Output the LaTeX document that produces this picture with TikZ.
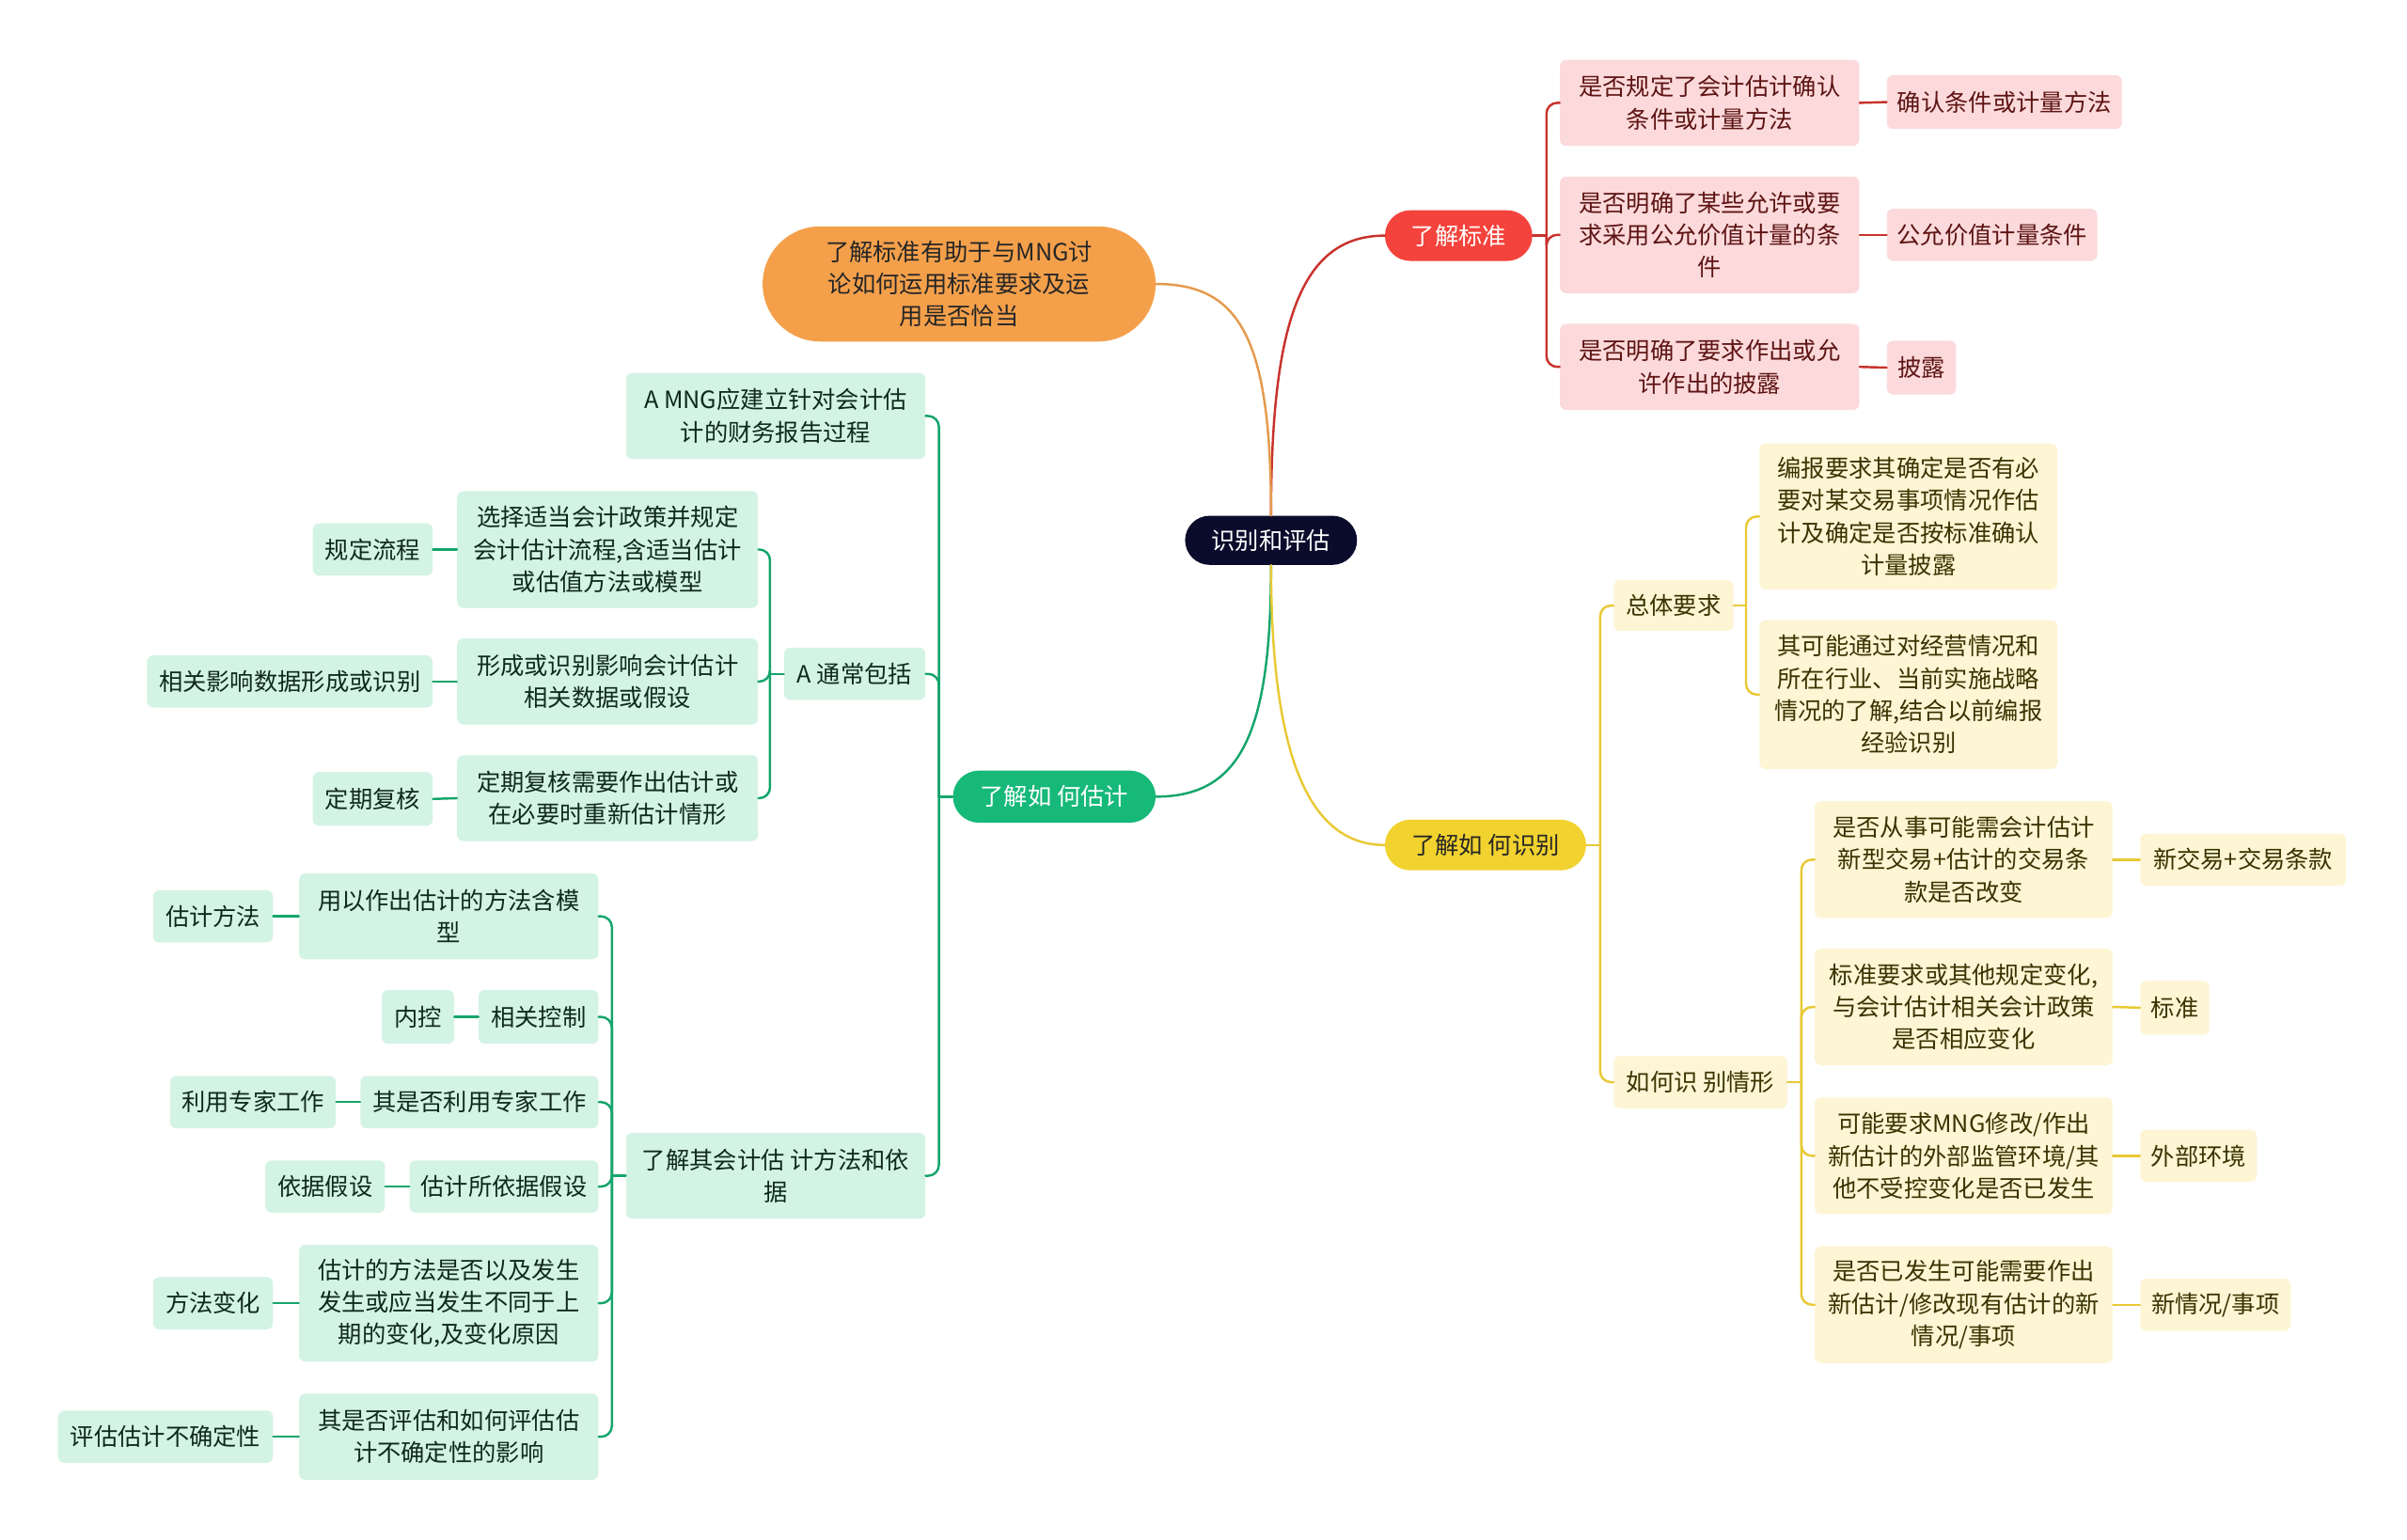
\documentclass[tikz,border=0pt]{standalone}
\usepackage{fontspec}
\setmainfont{Noto Sans CJK SC}
\usetikzlibrary{positioning,shapes.misc}

\definecolor{hubC}{HTML}{0B0B2C}
\definecolor{redC}{HTML}{F4433C}
\definecolor{redL}{HTML}{FCDADB}
\definecolor{redT}{HTML}{5E1414}
\definecolor{redW}{HTML}{C8322C}
\definecolor{orgC}{HTML}{F4A04B}
\definecolor{orgW}{HTML}{E49A4C}
\definecolor{grnC}{HTML}{16B978}
\definecolor{grnL}{HTML}{D3F3E5}
\definecolor{grnT}{HTML}{10291D}
\definecolor{grnW}{HTML}{14A56C}
\definecolor{yelC}{HTML}{F2D22E}
\definecolor{yelL}{HTML}{FDF5D4}
\definecolor{yelT}{HTML}{3A3300}
\definecolor{yelW}{HTML}{E9C934}

\begin{document}
\begin{tikzpicture}[
  x=1pt, y=-1pt,
  font=\fontsize{15.5}{21}\selectfont,
  sz/.style 2 args={minimum width=#1, minimum height=#2},
  topic/.style={rounded rectangle, align=center, inner sep=0pt},
  leaf/.style={rectangle, rounded corners=4, align=center, inner sep=0pt},
  redleaf/.style={leaf, fill=redL, text=redT},
  yelleaf/.style={leaf, fill=yelL, text=yelT},
  grnleaf/.style={leaf, fill=grnL, text=grnT},
  wire/.style={line width=1.5, line cap=round},
  redline/.style={wire, draw=redW},
  orgline/.style={wire, draw=orgW},
  grnline/.style={wire, draw=grnW},
  yelline/.style={wire, draw=yelW}
]
\fill[white] (0,0) rectangle (1568,1003);

% centre and main topics
\node[topic, sz={112}{32}, fill=hubC, text=white] (hub) at (828,352) {识别和评估};
\node[topic, sz={96}{33}, fill=redC, text=white, anchor=west] (std) at (902,153.5) {了解标准};
\node[topic, sz={256}{75}, fill=orgC, text=black!85, anchor=east] (org) at (753,185) {了解标准有助于与MNG讨\\论如何运用标准要求及运\\用是否恰当};
\node[topic, sz={132}{34}, fill=grnC, text=white, anchor=east] (est) at (753,519) {了解如 何估计};
\node[topic, sz={131}{33}, fill=yelC, text=black!85, anchor=west] (idn) at (902,550.5) {了解如 何识别};

% red branch
\node[redleaf, sz={195}{56}, anchor=west] (r1) at (1016,67) {是否规定了会计估计确认\\条件或计量方法};
\node[redleaf, sz={195}{76}, anchor=west] (r2) at (1016,153) {是否明确了某些允许或要\\求采用公允价值计量的条\\件};
\node[redleaf, sz={195}{56}, anchor=west] (r3) at (1016,239) {是否明确了要求作出或允\\许作出的披露};
\node[redleaf, sz={153}{35}, anchor=west] (r1t) at (1229,66.5) {确认条件或计量方法};
\node[redleaf, sz={137}{34}, anchor=west] (r2t) at (1229,153) {公允价值计量条件};
\node[redleaf, sz={45}{35}, anchor=west] (r3t) at (1229,239.5) {披露};

% yellow branch
\node[yelleaf, sz={78}{33}, anchor=west] (y1) at (1051,394.5) {总体要求};
\node[yelleaf, sz={194}{95}, anchor=west] (y11) at (1146,336.5) {编报要求其确定是否有必\\要对某交易事项情况作估\\计及确定是否按标准确认\\计量披露};
\node[yelleaf, sz={194}{97}, anchor=west] (y12) at (1146,452.5) {其可能通过对经营情况和\\所在行业、当前实施战略\\情况的了解,结合以前编报\\经验识别};
\node[yelleaf, sz={113}{34}, anchor=west] (y2) at (1051,705) {如何识 别情形};
\node[yelleaf, sz={194}{76}, anchor=west] (y21) at (1182,560) {是否从事可能需会计估计\\新型交易+估计的交易条\\款是否改变};
\node[yelleaf, sz={194}{76}, anchor=west] (y22) at (1182,656) {标准要求或其他规定变化,\\与会计估计相关会计政策\\是否相应变化};
\node[yelleaf, sz={194}{76}, anchor=west] (y23) at (1182,753) {可能要求MNG修改/作出\\新估计的外部监管环境/其\\他不受控变化是否已发生};
\node[yelleaf, sz={194}{76}, anchor=west] (y24) at (1182,850) {是否已发生可能需要作出\\新估计/修改现有估计的新\\情况/事项};
\node[yelleaf, sz={134}{34}, anchor=west] (y21t) at (1394,560) {新交易+交易条款};
\node[yelleaf, sz={45}{35}, anchor=west] (y22t) at (1394,656.5) {标准};
\node[yelleaf, sz={76}{34}, anchor=west] (y23t) at (1394,753) {外部环境};
\node[yelleaf, sz={98}{34}, anchor=west] (y24t) at (1394,850) {新情况/事项};

% green branch
\node[grnleaf, sz={195}{56}, anchor=east] (g1) at (603,271) {A MNG应建立针对会计估\\计的财务报告过程};
\node[grnleaf, sz={92}{34}, anchor=east] (g2) at (603,439) {A 通常包括};
\node[grnleaf, sz={195}{56}, anchor=east] (g3) at (603,766) {了解其会计估 计方法和依\\据};
\node[grnleaf, sz={196}{76}, anchor=east] (g21) at (494,358) {选择适当会计政策并规定\\会计估计流程,含适当估计\\或估值方法或模型};
\node[grnleaf, sz={196}{56}, anchor=east] (g22) at (494,444) {形成或识别影响会计估计\\相关数据或假设};
\node[grnleaf, sz={196}{56}, anchor=east] (g23) at (494,520) {定期复核需要作出估计或\\在必要时重新估计情形};
\node[grnleaf, sz={78}{34}, anchor=east] (g21t) at (282,358) {规定流程};
\node[grnleaf, sz={186}{34}, anchor=east] (g22t) at (282,444) {相关影响数据形成或识别};
\node[grnleaf, sz={78}{35}, anchor=east] (g23t) at (282,520.5) {定期复核};
\node[grnleaf, sz={195}{56}, anchor=east] (g31) at (390,597) {用以作出估计的方法含模\\型};
\node[grnleaf, sz={78}{35}, anchor=east] (g32) at (390,662.5) {相关控制};
\node[grnleaf, sz={155}{34}, anchor=east] (g33) at (390,718) {其是否利用专家工作};
\node[grnleaf, sz={123}{34}, anchor=east] (g34) at (390,773) {估计所依据假设};
\node[grnleaf, sz={195}{76}, anchor=east] (g35) at (390,849) {估计的方法是否以及发生\\发生或应当发生不同于上\\期的变化,及变化原因};
\node[grnleaf, sz={195}{56}, anchor=east] (g36) at (390,936) {其是否评估和如何评估估\\计不确定性的影响};
\node[grnleaf, sz={78}{34}, anchor=east] (g31t) at (178,597) {估计方法};
\node[grnleaf, sz={47}{35}, anchor=east] (g32t) at (296,662.5) {内控};
\node[grnleaf, sz={108}{34}, anchor=east] (g33t) at (219,718) {利用专家工作};
\node[grnleaf, sz={78}{34}, anchor=east] (g34t) at (251,773) {依据假设};
\node[grnleaf, sz={78}{34}, anchor=east] (g35t) at (178,849) {方法变化};
\node[grnleaf, sz={140}{34}, anchor=east] (g36t) at (178,936) {评估估计不确定性};

% curves from the centre
\draw[redline] (hub.north) .. controls +(0,-125) and +(-55,0) .. (std.west);
\draw[orgline] (org.east) .. controls +(55,0) and +(0,-115) .. (hub.north);
\draw[grnline] (hub.south) .. controls +(0,110) and +(55,0) .. (est.east);
\draw[yelline] (hub.south) .. controls +(0,110) and +(-55,0) .. (idn.west);

% brackets
\coordinate (sR) at ([xshift=9]std.east);
\draw[redline] (std.east) -- (sR);
\foreach \dst in {r1,r2,r3} \draw[redline, rounded corners=7] (sR) |- (\dst.west);

\coordinate (sY) at ([xshift=9]idn.east);
\draw[yelline] (idn.east) -- (sY);
\foreach \dst in {y1,y2} \draw[yelline, rounded corners=7] (sY) |- (\dst.west);
\coordinate (sY1) at ([xshift=8]y1.east);
\draw[yelline] (y1.east) -- (sY1);
\foreach \dst in {y11,y12} \draw[yelline, rounded corners=7] (sY1) |- (\dst.west);
\coordinate (sY2) at ([xshift=9]y2.east);
\draw[yelline] (y2.east) -- (sY2);
\foreach \dst in {y21,y22,y23,y24} \draw[yelline, rounded corners=7] (sY2) |- (\dst.west);

\coordinate (sG) at ([xshift=-9]est.west);
\draw[grnline] (est.west) -- (sG);
\foreach \dst in {g1,g2,g3} \draw[grnline, rounded corners=7] (sG) |- (\dst.east);
\coordinate (sG2) at ([xshift=-9]g2.west);
\draw[grnline] (g2.west) -- (sG2);
\foreach \dst in {g21,g22,g23} \draw[grnline, rounded corners=7] (sG2) |- (\dst.east);
\coordinate (sG3) at ([xshift=-9]g3.west);
\draw[grnline] (g3.west) -- (sG3);
\foreach \dst in {g31,g32,g33,g34,g35,g36} \draw[grnline, rounded corners=7] (sG3) |- (\dst.east);

% leaf tags
\foreach \src/\dst in {r1/r1t,r2/r2t,r3/r3t} \draw[redline] (\src.east) -- (\dst.west);
\foreach \src/\dst in {y21/y21t,y22/y22t,y23/y23t,y24/y24t} \draw[yelline] (\src.east) -- (\dst.west);
\foreach \src/\dst in {g21/g21t,g22/g22t,g23/g23t,g31/g31t,g32/g32t,g33/g33t,g34/g34t,g35/g35t,g36/g36t}
  \draw[grnline] (\src.west) -- (\dst.east);
\end{tikzpicture}
\end{document}
